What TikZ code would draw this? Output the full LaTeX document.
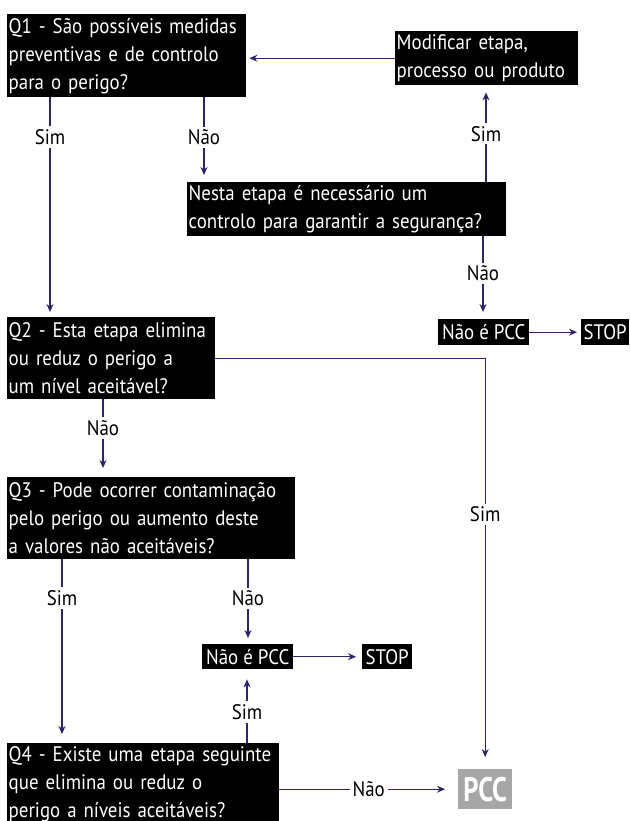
\documentclass[tikz,border=0pt]{standalone}
\usepackage{fontspec}
\setmainfont[FakeStretch=0.9]{PT Sans}
\newfontfamily\pccfont[FakeStretch=0.78]{PT Sans}
\usetikzlibrary{arrows.meta}

\definecolor{flowline}{RGB}{45,36,110}
\definecolor{pccgrey}{RGB}{166,166,166}

\begin{document}
\begin{tikzpicture}[x=1pt,y=-1pt,
    font=\fontsize{21}{28}\selectfont,
    qbox/.style={fill=black,text=white,anchor=north west,align=left,
      inner xsep=1.5pt,inner ysep=0pt},
    endbox/.style={fill=black,text=white,anchor=north west,inner xsep=0pt,inner ysep=0pt},
    flow/.style={draw=flowline,line width=1.1pt,
      -{Stealth[length=8pt,width=7pt]},shorten >=6pt}]

  \useasboundingbox (0,0) rectangle (629,821);

  \begin{scope}[every node/.style={qbox}]
    \node[text width=236pt,minimum height=83pt] (q1) at (7,14)
      {Q1 - São possíveis medidas\\preventivas e de controlo\\para o perigo?};
    \node[text width=180pt,minimum height=54pt] (mod) at (395,31)
      {Modificar etapa,\\processo ou produto};
    \node[text width=316pt,minimum height=54pt] (nesta) at (187,182)
      {Nesta etapa é necessário um\\controlo para garantir a segurança?};
    \node[text width=205pt,minimum height=82pt] (q2) at (7,317)
      {Q2 - Esta etapa elimina\\ou reduz o perigo a\\um nível aceitável?};
    \node[text width=285pt,minimum height=82pt] (q3) at (7,477)
      {Q3 - Pode ocorrer contaminação\\pelo perigo ou aumento deste\\a valores não aceitáveis?};
    \node[text width=269pt,minimum height=82pt] (q4) at (7,743)
      {Q4 - Existe uma etapa seguinte\\que elimina ou reduz o\\perigo a níveis aceitáveis?};
  \end{scope}

  \begin{scope}[every node/.style={endbox}]
    \node[minimum width=91pt,minimum height=26pt] (npcc1) at (438,319) {Não é PCC};
    \node[minimum width=48pt,minimum height=26pt] (stop1) at (581,319) {STOP};
    \node[minimum width=91pt,minimum height=25pt] (npcc2) at (202,644) {Não é PCC};
    \node[minimum width=50pt,minimum height=25pt] (stop2) at (362,644) {STOP};
    \node[fill=pccgrey,minimum width=54pt,minimum height=40pt,
      font=\pccfont\bfseries\fontsize{34}{34}\selectfont] (pcc) at (458,769) {PCC};
  \end{scope}

  \begin{scope}[every node/.style={fill=white,text=black,inner sep=3pt}]

    \begin{scope}[every edge/.style={flow}]
      \path (mod.west) edge[shorten >=3pt] (q1.east |- mod.west);
      \path ([xshift=43pt]q1.south west) edge[shorten >=5pt] node[pos=0.18] {Sim} ([xshift=43pt]q2.north west);
      \path ([xshift=197pt]q1.south west) edge[shorten >=7pt] node[pos=0.47] {Não} ([xshift=17pt]nesta.north west);
      \path ([xshift=299pt]nesta.north west) edge[shorten >=7pt] node {Sim} ([xshift=91pt]mod.south west);
      \path ([xshift=296pt]nesta.south west) edge[shorten >=7pt] node[pos=0.45] {Não} ([xshift=45pt]npcc1.north west);
      \path (npcc1.east) edge[shorten >=4pt] (stop1.west);
      \path ([xshift=96pt]q2.south west) edge[shorten >=9pt] node[pos=0.37] {Não} ([xshift=96pt]q3.north west);
      \path ([xshift=55pt]q3.south west) edge[shorten >=9pt] node[pos=0.21] {Sim} ([xshift=55pt]q4.north west);
      \path ([xshift=241pt]q3.south west) edge node[pos=0.46] {Não} ([xshift=46pt]npcc2.north west);
      \path (npcc2.east) edge (stop2.west);
      \path ([xshift=240pt]q4.north west) edge[shorten >=10pt] node[pos=0.42] {Sim} ([xshift=45pt]npcc2.south west);
      \path (q4.east |- pcc.west) edge[shorten >=13pt] node {Não} (pcc.west);
    \end{scope}

    \draw[flow,shorten >=12pt] (q2.east) -| node[pos=0.69] {Sim} (pcc.north);

  \end{scope}

\end{tikzpicture}
\end{document}
